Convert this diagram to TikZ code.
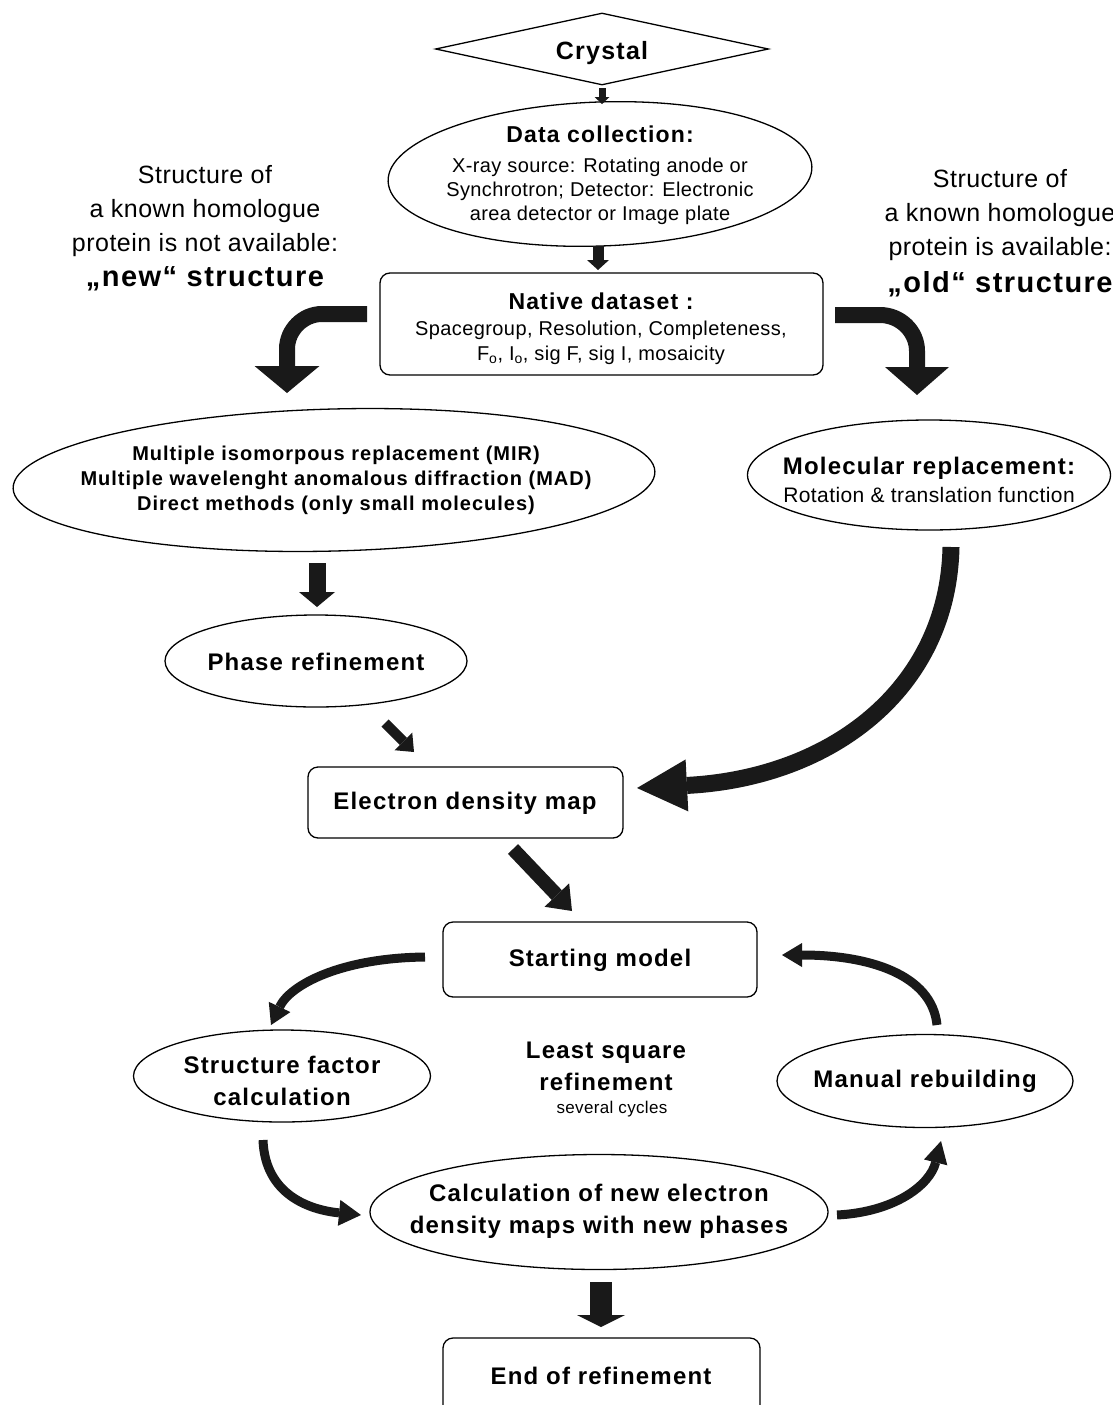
\documentclass[tikz,border=0pt]{standalone}
\usepackage{fontspec}
\setmainfont{Liberation Sans}
\newfontfamily\bsfont[LetterSpace=5]{Liberation Sans}
\newfontfamily\rsfont[LetterSpace=2]{Liberation Sans}
\usetikzlibrary{shapes.geometric,arrows.meta}
\definecolor{ink}{gray}{0.1}
\begin{document}
\begin{tikzpicture}[x=1pt,y=-1pt,
  shapeline/.style={draw=black, line width=1.3pt},
  elli/.style={ellipse, shapeline, inner sep=0pt},
  rbox/.style={rectangle, rounded corners=10pt, shapeline, inner sep=0pt},
  lab/.style={inner sep=0pt, align=center, font=\bsfont\bfseries\fontsize{24}{32}\selectfont},
  head/.style={inner sep=0pt, align=center, font=\bsfont\bfseries\fontsize{23}{28}\selectfont},
  small/.style={inner sep=0pt, align=center, font=\rsfont\fontsize{20}{24}\selectfont},
  side/.style={inner sep=0pt, align=center, font=\rsfont\fontsize{25}{34}\selectfont},
  sideb/.style={inner sep=0pt, align=center, font=\bsfont\bfseries\fontsize{29}{34}\selectfont},
  mirt/.style={inner sep=0pt, align=center, font=\bsfont\bfseries\fontsize{20}{25}\selectfont},
  blk/.style n args={3}{draw=ink, line width=#1, -{Triangle[length=#2, width=#3, line width=0pt]}}
]
\useasboundingbox (0,0) rectangle (1113,1405);

% ---------- shapes ----------
\node[diamond, shapeline, minimum width=333pt, minimum height=72pt, aspect=4.6, inner sep=0pt] (cry) at (602,49) {};
\node[elli, minimum width=424pt, minimum height=144pt, rotate=2] (dc) at (600,174) {};
\node[rbox, minimum width=443pt, minimum height=102pt] (nd) at (601.5,324) {};
\node[elli, minimum width=642pt, minimum height=142pt, rotate=1.5] (mir) at (334,480) {};
\node[elli, minimum width=363pt, minimum height=110pt] (mr) at (929,475) {};
\node[elli, minimum width=302pt, minimum height=92pt] (pr) at (316,661) {};
\node[rbox, minimum width=315pt, minimum height=71pt] (edm) at (465.5,802.5) {};
\node[rbox, minimum width=314pt, minimum height=75pt] (sm) at (600,959.5) {};
\node[elli, minimum width=297pt, minimum height=92pt] (sf) at (282,1076) {};
\node[elli, minimum width=296pt, minimum height=93pt] (mb) at (925,1081) {};
\node[elli, minimum width=458pt, minimum height=115pt] (cn) at (599,1212) {};
\node[rbox, minimum width=317pt, minimum height=80pt] (endb) at (601.5,1378) {};

% ---------- texts ----------
\node[lab, font=\bsfont\bfseries\fontsize{25}{30}\selectfont] (tcry) at (602,53) {Crystal};
\node[head] (tdc) at (600,134) {Data collection:};
\node[small] (tdc2) at (600,191) {X-ray source: Rotating anode or\\Synchrotron; Detector: Electronic\\area detector or Image plate};
\node[head] (tnd) at (601,301) {Native dataset :};
\node[small, font=\rsfont\fontsize{20}{25}\selectfont] (tnd2) at (601,343) {Spacegroup, Resolution, Completeness,\\F\textsubscript{o}, I\textsubscript{o}, sig F, sig I, mosaicity};
\node[side] (tl) at (205,211) {Structure of\\a known homologue\\protein is not available:};
\node[sideb] (tl2) at (205,279) {„new“ structure};
\node[side] (tr) at (1000,215) {Structure of\\a known homologue\\protein is available:};
\node[sideb] (tr2) at (1000,284) {„old“ structure};
\node[mirt] (tmir) at (336,480) {Multiple isomorpous replacement (MIR)\\Multiple wavelenght anomalous diffraction (MAD)\\Direct methods (only small molecules)};
\node[lab] (tmr) at (929,468) {Molecular replacement:};
\node[small, font=\rsfont\fontsize{21}{26}\selectfont] (tmr2) at (929,495) {Rotation \& translation function};
\node[lab] (tpr) at (316,662) {Phase refinement};
\node[lab] (tedm) at (465,803) {Electron density map};
\node[lab] (tsm) at (600,960) {Starting model};
\node[lab] (tsf) at (282,1081) {Structure factor\\calculation};
\node[lab] (tls) at (606,1066) {Least square\\refinement};
\node[small, font=\rsfont\fontsize{17}{20}\selectfont] (tls2) at (612,1109) {several cycles};
\node[lab] (tmb) at (925,1081) {Manual rebuilding};
\node[lab] (tcn) at (599,1211) {Calculation of new electron\\density maps with new phases};
\node[lab] (tend) at (601,1376) {End of refinement};

% ---------- connector end points ----------
\coordinate (a1s) at (602,88);   \coordinate (a1e) at (602,104);
\coordinate (a2s) at (598,246);  \coordinate (a2e) at (598,270);
\coordinate (a3s) at (367,314);  \coordinate (a3e) at (287,393);
\coordinate (a4s) at (835,315);  \coordinate (a4e) at (917,395);
\coordinate (a5s) at (317,563);  \coordinate (a5e) at (317,607);
\coordinate (a6s) at (385,723);  \coordinate (a6e) at (414,752);
\coordinate (a7s) at (951,547);  \coordinate (a7e) at (637,788);
\coordinate (a8s) at (513,849);  \coordinate (a8e) at (572,911);
\coordinate (a9s) at (425,957);  \coordinate (a9e) at (271,1025);
\coordinate (a10s) at (263,1140); \coordinate (a10e) at (361,1215);
\coordinate (a11s) at (837,1215); \coordinate (a11e) at (941,1141);
\coordinate (a12s) at (937,1025); \coordinate (a12e) at (782,955);
\coordinate (a13s) at (601,1282); \coordinate (a13e) at (601,1327);

% ---------- connectors ----------
\draw[blk={7pt}{7pt}{15pt}] (a1s) -- (a1e);
\draw[blk={11pt}{10pt}{22pt}] (a2s) -- (a2e);
\draw[blk={16pt}{27pt}{65pt}] (a3s) -- (322,314) .. controls (303,314) and (287,330) .. (287,349) -- (a3e);
\draw[blk={16pt}{28pt}{64pt}] (a4s) -- (880,315) .. controls (900,315) and (917,331) .. (917,351) -- (a4e);
\draw[blk={17pt}{15pt}{36pt}] (a5s) -- (a5e);
\draw[blk={10pt}{15pt}{25pt}] (a6s) -- (a6e);
\draw[blk={17pt}{50pt}{52pt}] (a7s) .. controls (948,690) and (830,778) .. (a7e);
\draw[blk={14pt}{22pt}{34pt}] (a8s) -- (a8e);
\draw[blk={9pt}{20pt}{24pt}] (a9s) .. controls (340,958) and (290,985) .. (a9e);
\draw[blk={9pt}{22pt}{26pt}] (a10s) .. controls (265,1195) and (310,1210) .. (a10e);
\draw[blk={9pt}{22pt}{24pt}] (a11s) .. controls (895,1212) and (930,1185) .. (a11e);
\draw[blk={9pt}{20pt}{24pt}] (a12s) .. controls (932,975) and (870,955) .. (a12e);
\draw[blk={22pt}{12pt}{48pt}] (a13s) -- (a13e);
\end{tikzpicture}
\end{document}
